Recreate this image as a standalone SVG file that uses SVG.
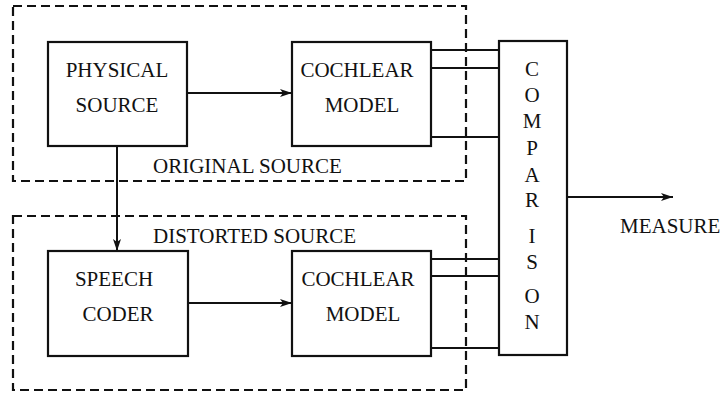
<svg xmlns="http://www.w3.org/2000/svg" width="721" height="395" viewBox="0 0 721 395">
<style>
text{font-family:"Liberation Serif","Times New Roman",serif;font-size:21px;fill:#111}
.box{fill:none;stroke:#111;stroke-width:2.2}
.dash{fill:none;stroke:#111;stroke-width:2.2;stroke-dasharray:9 5}
.ln{fill:none;stroke:#111;stroke-width:2}
.c{text-anchor:middle}
</style>
<defs>
<marker id="ah" viewBox="0 0 12 8" refX="12" refY="4" markerWidth="12" markerHeight="8" markerUnits="userSpaceOnUse" orient="auto">
<path d="M0,0 L12,4 L0,8 L3,4 Z" fill="#111"/>
</marker>
</defs>
<rect x="0" y="0" width="721" height="395" fill="#fff"/>
<g id="original-source">
<rect class="dash" x="13" y="6" width="453" height="175"/>
<text x="153" y="173">ORIGINAL SOURCE</text>
</g>
<g id="distorted-source">
<rect class="dash" x="13" y="216" width="453" height="174"/>
<text x="153" y="243">DISTORTED SOURCE</text>
</g>
<g id="physical-source">
<rect class="box" x="48" y="42" width="139" height="104"/>
<text class="c" x="117" y="77">PHYSICAL</text>
<text class="c" x="117" y="112">SOURCE</text>
</g>
<g id="cochlear-model-1">
<rect class="box" x="292" y="42" width="139" height="104"/>
<text class="c" x="357" y="77">COCHLEAR</text>
<text class="c" x="362" y="112">MODEL</text>
</g>
<g id="speech-coder">
<rect class="box" x="48" y="251" width="140" height="105"/>
<text class="c" x="114" y="286">SPEECH</text>
<text class="c" x="118" y="321">CODER</text>
</g>
<g id="cochlear-model-2">
<rect class="box" x="292" y="251" width="139" height="105"/>
<text class="c" x="358" y="286">COCHLEAR</text>
<text class="c" x="363" y="321">MODEL</text>
</g>
<g id="comparison">
<rect class="box" x="499" y="41" width="68" height="314"/>
<text class="c" x="532" y="76">C</text>
<text class="c" x="532" y="102">O</text>
<text class="c" x="532" y="128">M</text>
<text class="c" x="532" y="155">P</text>
<text class="c" x="532" y="182">A</text>
<text class="c" x="532" y="207">R</text>
<text class="c" x="532" y="243">I</text>
<text class="c" x="532" y="269">S</text>
<text class="c" x="532" y="303">O</text>
<text class="c" x="532" y="329">N</text>
</g>
<g id="measure">
<text x="620" y="233">MEASURE</text>
</g>
<g id="connectors">
<line class="ln" x1="187" y1="93" x2="292" y2="93" marker-end="url(#ah)"/>
<line class="ln" x1="188" y1="303" x2="292" y2="303" marker-end="url(#ah)"/>
<line class="ln" x1="117" y1="146" x2="117" y2="251" marker-end="url(#ah)"/>
<line class="ln" x1="567" y1="197" x2="673" y2="197" marker-end="url(#ah)"/>
<line class="ln" x1="431" y1="50" x2="499" y2="50"/>
<line class="ln" x1="431" y1="68" x2="499" y2="68"/>
<line class="ln" x1="431" y1="137" x2="499" y2="137"/>
<line class="ln" x1="431" y1="259" x2="499" y2="259"/>
<line class="ln" x1="431" y1="276" x2="499" y2="276"/>
<line class="ln" x1="431" y1="348" x2="499" y2="348"/>
</g>
</svg>
